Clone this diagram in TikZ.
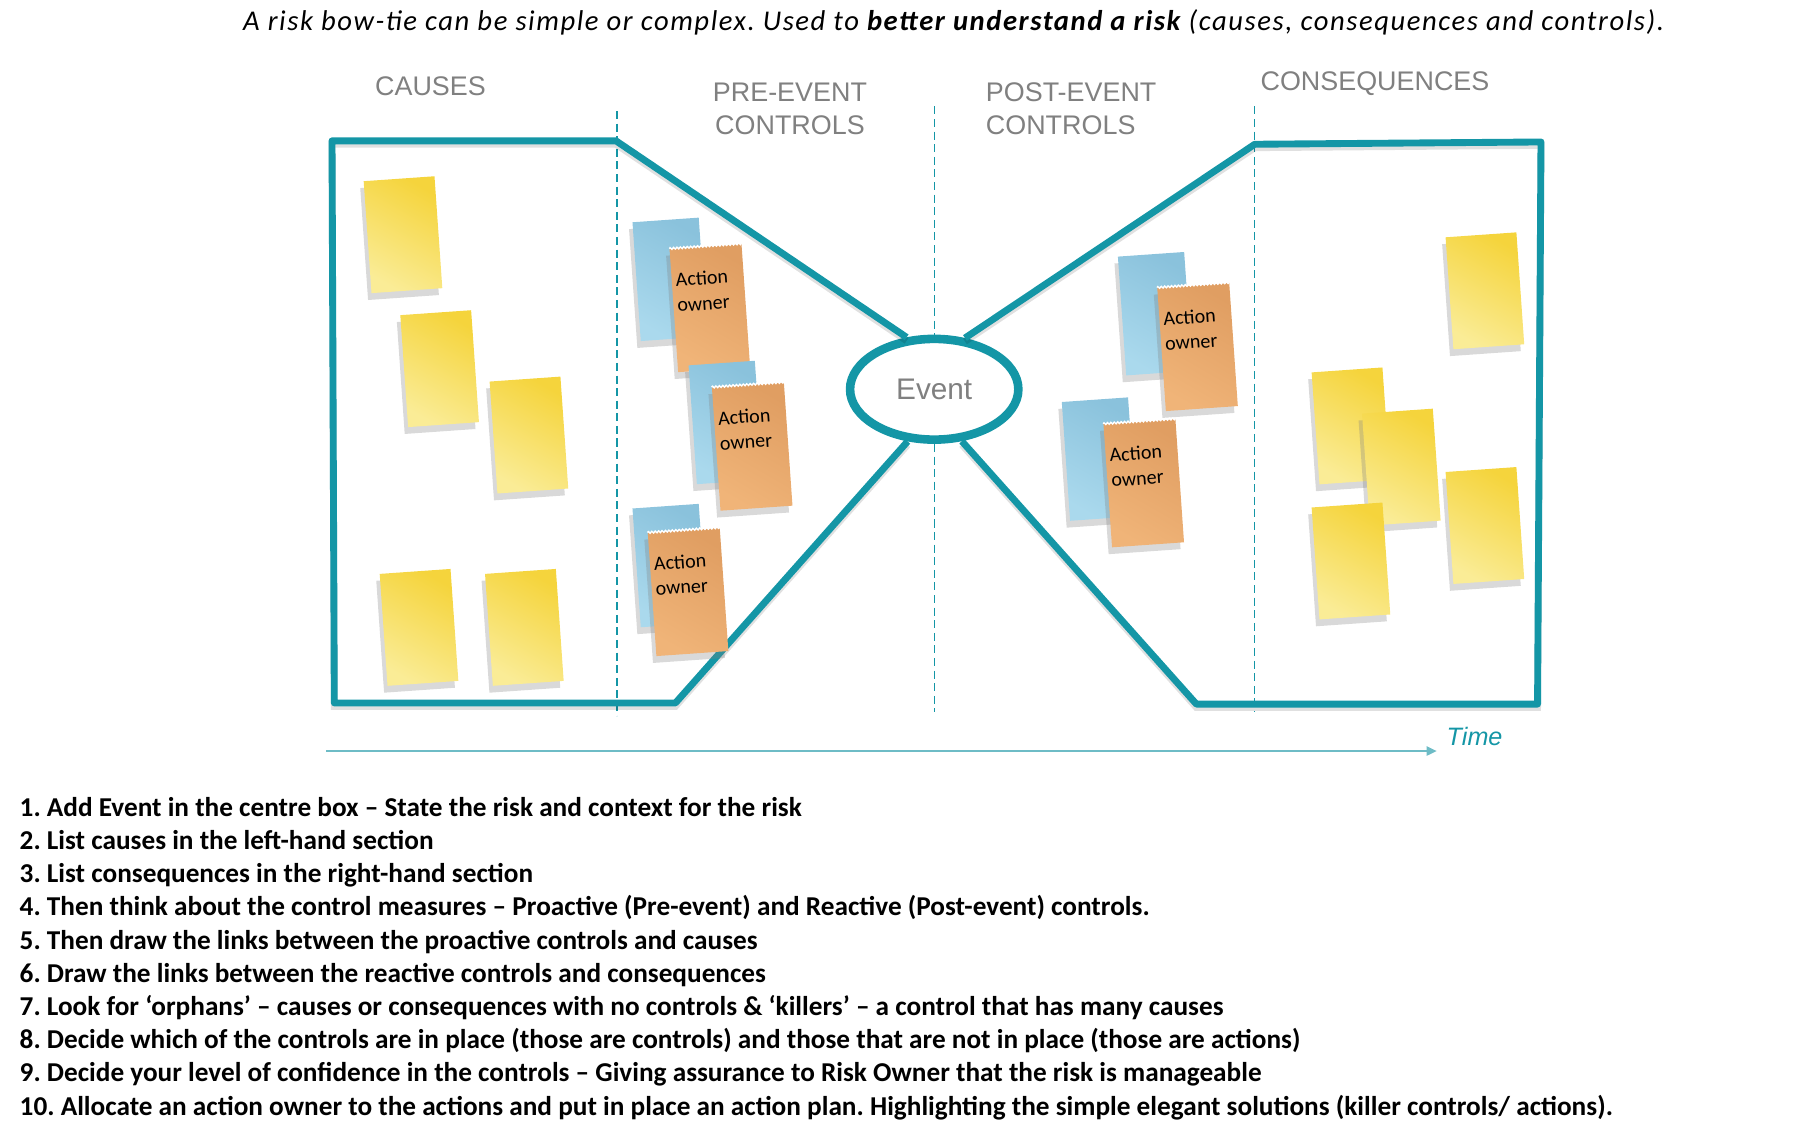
\documentclass[tikz,border=0pt]{standalone}
\usepackage{fontspec}
\setmainfont{Carlito}
\newfontfamily\arialfont{Liberation Sans}
\newfontfamily\titlefont[LetterSpace=5.5]{Carlito}
\usetikzlibrary{positioning, shapes.geometric, shadows, arrows.meta, decorations.pathmorphing}
\frenchspacing

\definecolor{bowteal}{RGB}{20,150,166}
\definecolor{timeteal}{RGB}{110,188,198}
\definecolor{headgray}{RGB}{128,128,128}
\definecolor{ydark}{RGB}{245,212,60}
\definecolor{ylight}{RGB}{250,236,150}
\definecolor{bdark}{RGB}{138,194,220}
\definecolor{blight}{RGB}{170,217,237}
\definecolor{odark}{RGB}{224,158,98}
\definecolor{olight}{RGB}{240,180,120}

\tikzset{
    x=1pt, y=-1pt,                              % pixel-like coordinates, y grows downwards
    bowline/.style={draw=bowteal, line width=6pt, line join=round,
        preaction={draw=black, opacity=0.12, line width=6pt, transform canvas={yshift=-3pt}}},
    divider/.style={draw=bowteal, line width=1.2pt, dash pattern=on 7pt off 4pt},
    header/.style={font=\arialfont\fontsize{23.5}{29}\selectfont, text=headgray, inner sep=0pt},
    note/.style={inner sep=0pt, rotate=4,
        drop shadow={shadow xshift=-3pt, shadow yshift=-6pt, opacity=0.3}},
    yellownote/.style={note, minimum width=62pt, minimum height=98pt,
        top color=ydark, bottom color=ylight, shading angle=-30},
    bluenote/.style={note, minimum width=58pt, minimum height=104pt,
        top color=bdark, bottom color=blight, shading angle=-30},
    orangenote/.style={note, minimum width=63pt, minimum height=108pt,
        top color=odark, bottom color=olight, shading angle=-30},
    tornedge/.style={draw=white, line width=1.2pt,
        decorate, decoration={zigzag, segment length=3pt, amplitude=0.8pt}},
    ownertext/.style={font=\fontsize{17.5}{22}\selectfont, align=left, inner sep=0pt, rotate=4},
    steptext/.style={font=\bfseries\fontsize{23.8}{29}\selectfont, anchor=base west, inner sep=0pt},
}

\begin{document}
\begin{tikzpicture}
\useasboundingbox (0,0) rectangle (1567,998.3);

% title
\node[font=\titlefont\itshape\fontsize{25}{30}\selectfont, anchor=base] (title) at (833,27)
    {A risk bow-tie can be simple or complex. Used to \textbf{better understand a risk} (causes, consequences and controls).};

% section headers
\node[header] (causes) at (376,75) {CAUSES};
\node[header, align=center] (pre) at (690,95) {PRE-EVENT\\CONTROLS};
\node[header, align=left, anchor=west] (post) at (861,95) {POST-EVENT\\CONTROLS};
\node[header] (cons) at (1201,73) {CONSEQUENCES};

% the event in the knot of the bow-tie
\node[ellipse, draw=bowteal, line width=7.5pt, fill=white, inner sep=0pt,
      minimum width=147pt, minimum height=88pt,
      font=\arialfont\fontsize{26}{30}\selectfont, text=headgray] (event) at (816,340) {Event};

% dashed dividers
\coordinate (d1top) at (539,97);  \coordinate (d1bot) at (539,625);
\coordinate (d2top) at (816,93);  \coordinate (d2bot) at (816,622);
\coordinate (d3top) at (1096,93); \coordinate (d3bot) at (1096,622);
\draw[divider] (d1top) -- (d1bot);
\draw[divider] (d2top) -- (event.north);
\draw[divider] (event.south) -- (d2bot);
\draw[divider] (d3top) -- (d3bot);

% bow-tie outline
\draw[bowline] (event.118) -- (538,123) -- (290,123) -- (292,614) -- (590,614) -- (event.243);
\draw[bowline] (event.59) -- (1096,126) -- (1346,124) -- (1343,615) -- (1045,615) -- (event.298);

% causes
\node[yellownote] (c1) at (352,205) {};
\node[yellownote] (c2) at (384,322) {};
\node[yellownote] (c3) at (462,380) {};
\node[yellownote] (c4) at (366,548) {};
\node[yellownote] (c5) at (458,548) {};

% consequences
\node[yellownote] (q1) at (1297,254) {};
\node[yellownote] (q2) at (1180,372) {};
\node[yellownote] (q3) at (1224,408) {};
\node[yellownote] (q4) at (1297,459) {};
\node[yellownote] (q5) at (1180,490) {};

% pre-event controls
\node[bluenote] (pb1) at (585,244) {};
\node[orangenote] (po1) at (620,269) {};
\draw[tornedge] (po1.north west) -- (po1.north east);
\node[ownertext, below right=21pt and 5pt of po1.north west] (pt1) {Action\\owner};
\node[bluenote] (pb2) at (634,369) {};
\node[orangenote] (po2) at (657,390) {};
\draw[tornedge] (po2.north west) -- (po2.north east);
\node[ownertext, below right=21pt and 5pt of po2.north west] (pt2) {Action\\owner};
\node[bluenote] (pb3) at (585,494) {};
\node[orangenote] (po3) at (601,517) {};
\draw[tornedge] (po3.north west) -- (po3.north east);
\node[ownertext, below right=21pt and 5pt of po3.north west] (pt3) {Action\\owner};

% post-event controls
\node[bluenote] (rb1) at (1009,274) {};
\node[orangenote] (ro1) at (1046,303) {};
\draw[tornedge] (ro1.north west) -- (ro1.north east);
\node[ownertext, below right=21pt and 5pt of ro1.north west] (rt1) {Action\\owner};
\node[bluenote] (rb2) at (960,401) {};
\node[orangenote] (ro2) at (999,422) {};
\draw[tornedge] (ro2.north west) -- (ro2.north east);
\node[ownertext, below right=21pt and 5pt of ro2.north west] (rt2) {Action\\owner};

% time axis
\coordinate (tstart) at (285,656);
\coordinate (tend) at (1255,656);
\draw[timeteal, line width=2pt, -{Triangle[length=9pt, width=8pt]}] (tstart) -- (tend);
\node[font=\arialfont\itshape\fontsize{22}{26}\selectfont, text=bowteal] (time) at (1288,643) {Time};

% steps
\foreach \t [count=\i] in {
    {1. Add Event in the centre box -- State the risk and context for the risk},
    {2. List causes in the left-hand section},
    {3. List consequences in the right-hand section},
    {4. Then think about the control measures -- Proactive (Pre-event) and Reactive (Post-event) controls.},
    {5. Then draw the links between the proactive controls and causes},
    {6. Draw the links between the reactive controls and consequences},
    {7. Look for ‘orphans’ -- causes or consequences with no controls \& ‘killers’ -- a control that has many causes},
    {8. Decide which of the controls are in place (those are controls) and those that are not in place (those are actions)},
    {9. Decide your level of confidence in the controls -- Giving assurance to Risk Owner that the risk is manageable},
    {10. Allocate an action owner to the actions and put in place an action plan. Highlighting the simple elegant solutions (killer controls/ actions).}}
    \node[steptext] (step\i) at (17,{713+29*(\i-1)}) {\t};

\end{tikzpicture}
\end{document}
